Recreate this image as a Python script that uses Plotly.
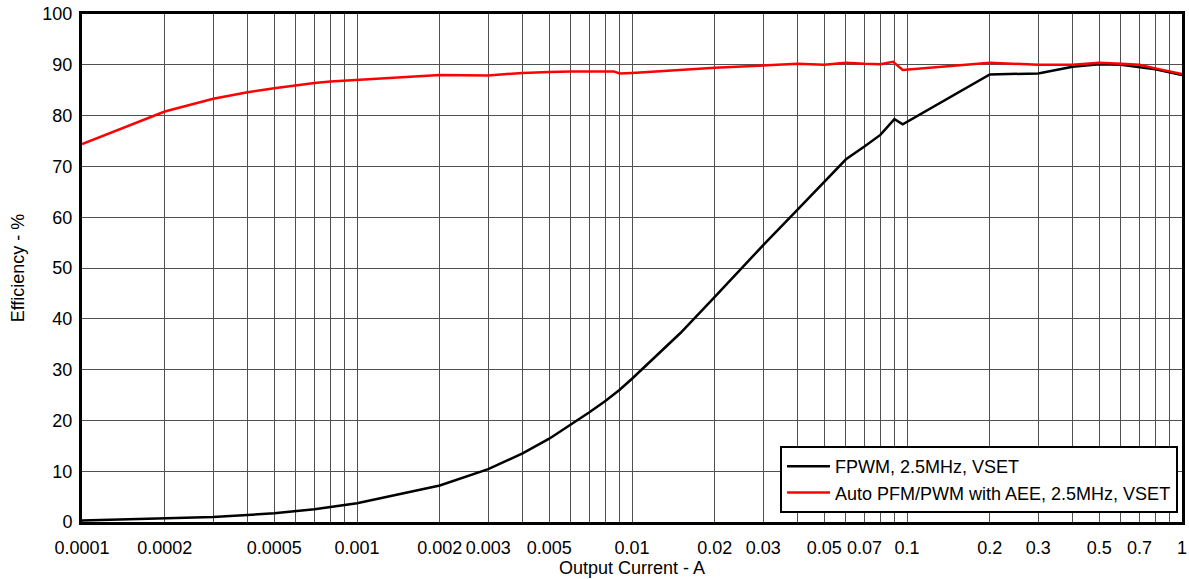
import plotly.graph_objects as go

# Output current (A) and efficiency (%)
fpwm_current = [0.0001, 0.0002, 0.0003, 0.0005, 0.0007, 0.001, 0.002, 0.003, 0.004, 0.005,
                0.006, 0.007, 0.008, 0.009, 0.01, 0.015, 0.02, 0.03, 0.04, 0.05, 0.06, 0.07,
                0.08, 0.09, 0.0965, 0.2, 0.3, 0.4, 0.5, 0.6, 0.7, 0.8, 1.0]
fpwm_eff = [0.3, 0.7, 1.0, 1.7, 2.5, 3.7, 7.2, 10.4, 13.5, 16.4,
            19.2, 21.6, 23.8, 26.0, 28.2, 37.2, 44.3, 54.5, 61.5, 67.0, 71.4, 73.9,
            76.2, 79.3, 78.3, 88.1, 88.3, 89.6, 90.1, 90.0, 89.5, 89.1, 88.0]

auto_current = [0.0001, 0.0002, 0.0003, 0.0004, 0.0005, 0.0006, 0.0007, 0.0008, 0.001, 0.002,
                0.003, 0.004, 0.005, 0.006, 0.008, 0.0086, 0.009, 0.01, 0.02, 0.03, 0.04,
                0.05, 0.06, 0.07, 0.08, 0.089, 0.0965, 0.2, 0.3, 0.4, 0.5, 0.6, 0.7, 0.8, 1.0]
auto_eff = [74.4, 80.8, 83.3, 84.6, 85.4, 86.0, 86.4, 86.7, 87.0, 88.0,
            87.9, 88.4, 88.6, 88.7, 88.7, 88.7, 88.3, 88.4, 89.4, 89.8, 90.2,
            90.0, 90.4, 90.2, 90.1, 90.6, 89.0, 90.4, 90.0, 90.0, 90.4, 90.2, 90.0, 89.3, 88.2]

series_names = ["FPWM, 2.5MHz, VSET", "Auto PFM/PWM with AEE, 2.5MHz, VSET"]

labeled_ticks = [0.0001, 0.0002, 0.0005, 0.001, 0.002, 0.003, 0.005, 0.01, 0.02, 0.03,
                 0.05, 0.07, 0.1, 0.2, 0.3, 0.5, 0.7, 1]
tick_labels = ["0.0001", "0.0002", "0.0005", "0.001", "0.002", "0.003", "0.005", "0.01",
               "0.02", "0.03", "0.05", "0.07", "0.1", "0.2", "0.3", "0.5", "0.7", "1"]
y_ticks = list(range(0, 101, 10))

# all grid positions 1..9 per decade
grid_vals = []
for d in [0.0001, 0.001, 0.01, 0.1]:
    for m in range(1, 10):
        grid_vals.append(round(d * m, 6))
grid_vals.append(1.0)
label_map = {round(v, 6): t for v, t in zip(labeled_ticks, tick_labels)}
grid_text = [label_map.get(v, "") for v in grid_vals]

font_family = "Arial, Liberation Sans, sans-serif"

fig = go.Figure()
fig.add_trace(go.Scatter(x=fpwm_current, y=fpwm_eff, mode="lines", name=series_names[0],
                         line=dict(color="#000000", width=2.5)))
fig.add_trace(go.Scatter(x=auto_current, y=auto_eff, mode="lines", name=series_names[1],
                         line=dict(color="#ff0000", width=2.5)))

fig.update_layout(
    width=1189, height=579,
    margin=dict(l=82, r=7, t=14, b=57),
    paper_bgcolor="white", plot_bgcolor="white",
    font=dict(family=font_family, size=18, color="#000000"),
    showlegend=True,
    legend=dict(x=0.9964, y=0.0177, xanchor="right", yanchor="bottom",
                bgcolor="white", bordercolor="#000000", borderwidth=2,
                font=dict(size=18), tracegroupgap=0, itemwidth=43),
    xaxis=dict(type="log", range=[-4, 0], tickvals=grid_vals, ticktext=grid_text,
               showgrid=True, gridcolor="#505050", gridwidth=1,
               showline=True, linecolor="#000000", linewidth=3, mirror=True,
               ticks="outside", ticklen=7, tickcolor="rgba(0,0,0,0)",
               tickfont=dict(size=18), zeroline=False, automargin=False,
               ticklabeloverflow="allow",
               title=dict(text="Output Current - A", font=dict(size=18), standoff=2)),
    yaxis=dict(range=[0, 100], tickvals=y_ticks,
               showgrid=True, gridcolor="#505050", gridwidth=1,
               showline=True, linecolor="#000000", linewidth=3, mirror=True,
               ticks="outside", ticklen=3, tickcolor="rgba(0,0,0,0)",
               tickfont=dict(size=18), zeroline=False, automargin=False,
               ticklabeloverflow="allow",
               title=dict(text="Efficiency - %", font=dict(size=18), standoff=14)),
)

fig.write_html("out.html", config={"displayModeBar": False},
               post_script="document.body.style.margin='0';document.body.style.overflow='hidden';")
